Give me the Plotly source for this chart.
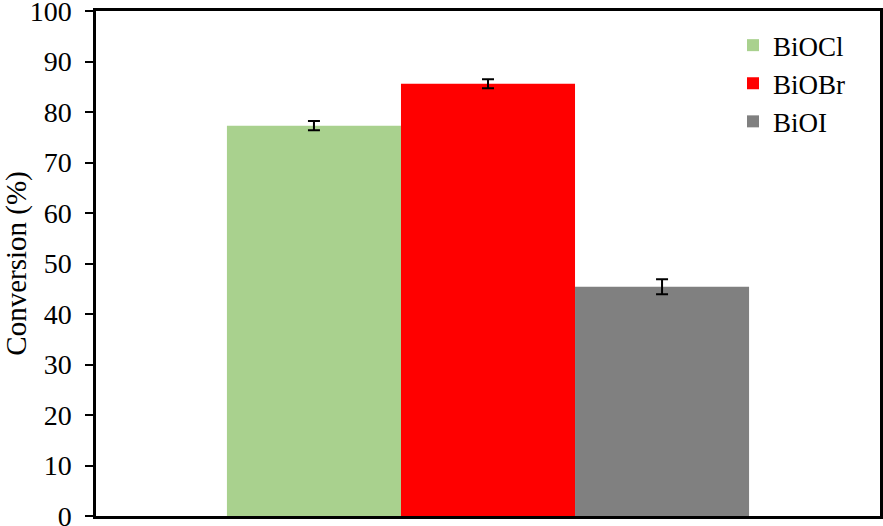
import plotly.graph_objects as go

materials = ["BiOCl", "BiOBr", "BiOI"]
conversion = [77.3, 85.6, 45.4]
errors = [0.9, 0.9, 1.5]
colors = ["#A9D18E", "#FF0000", "#808080"]


def set_layout(fig):
    font = "Liberation Serif, Times New Roman, serif"
    fig.update_layout(
        width=883,
        height=526,
        margin=dict(l=96, r=3, t=11, b=10, autoexpand=False),
        paper_bgcolor="white",
        plot_bgcolor="white",
        font=dict(family=font, size=28, color="black"),
        barmode="group",
        bargap=0.334,
        bargroupgap=0,
        showlegend=True,
        legend=dict(
            x=0.8125, y=0.98, xanchor="left", yanchor="top",
            font=dict(family=font, size=27, color="black"),
            itemwidth=30,
            tracegroupgap=0,
            bgcolor="rgba(0,0,0,0)",
        ),
    )
    fig.update_xaxes(
        showticklabels=False,
        ticks="",
        showline=True,
        linecolor="black",
        linewidth=2.5,
        mirror=True,
        showgrid=False,
        automargin=False,
    )
    fig.update_yaxes(
        range=[0, 100],
        dtick=10,
        ticks="outside",
        ticklen=8,
        tickwidth=2,
        tickcolor="black",
        showline=True,
        linecolor="black",
        linewidth=2.5,
        mirror=True,
        showgrid=False,
        zeroline=False,
        automargin=False,
        ticklabeloverflow="allow",
        ticklabelstandoff=8,
        title=dict(text="Conversion (%)", standoff=9,
                   font=dict(family=font, size=29)),
    )


def main():
    fig = go.Figure()
    for name, val, err, col in zip(materials, conversion, errors, colors):
        fig.add_trace(go.Bar(
            x=["sample"], y=[val], name=name,
            marker=dict(color=col, line=dict(width=0)),
            error_y=dict(type="data", array=[err], visible=True,
                         color="black", thickness=2, width=6),
        ))
    set_layout(fig)
    # drop the default page margin so the figure sits at the window corner
    fig.write_html(
        "out.html",
        config={"displayModeBar": False},
        post_script="document.body.style.margin='0';",
    )


if __name__ == "__main__":
    main()
